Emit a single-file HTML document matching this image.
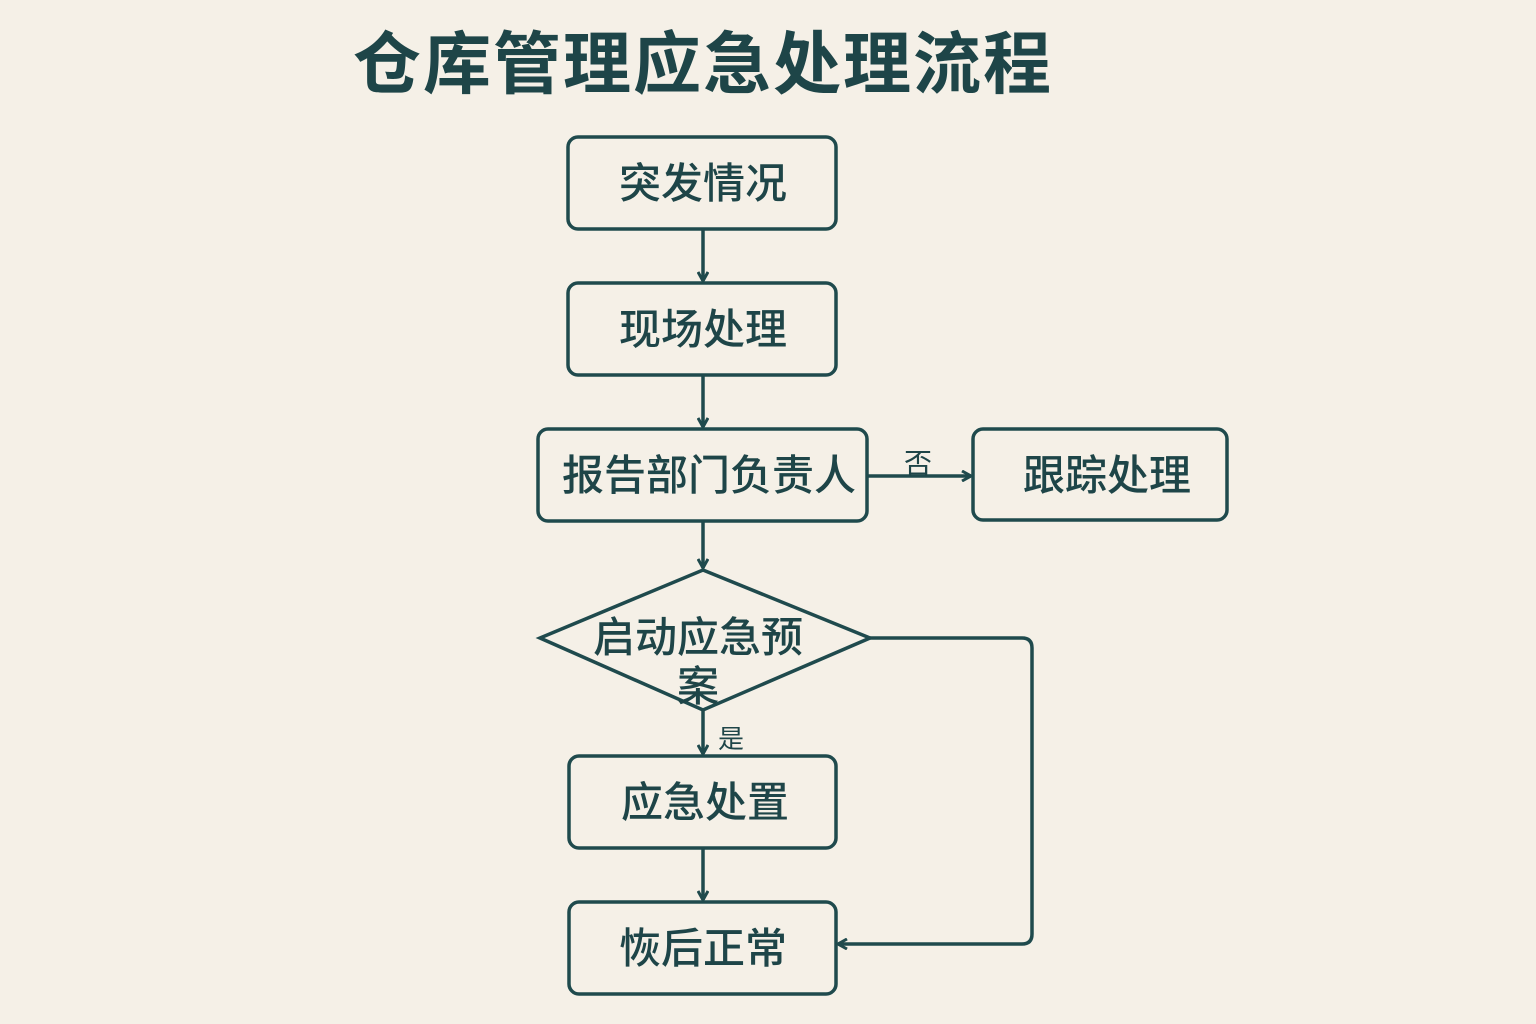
<!DOCTYPE html>
<html><head><meta charset="utf-8"><style>
html,body{margin:0;padding:0;background:#f5f0e7;}
svg{display:block;}
text{font-family:"Liberation Sans","Noto Sans CJK SC",sans-serif;fill:#1e4548;}
</style></head><body>
<svg width="1536" height="1024" viewBox="0 0 1536 1024" xmlns="http://www.w3.org/2000/svg">
<rect width="1536" height="1024" fill="#f5f0e7"/>
<defs><marker id="a" markerWidth="12" markerHeight="12" refX="10" refY="6" orient="auto" markerUnits="userSpaceOnUse"><path d="M1,1 L10,6 L1,11" fill="none" stroke="#1f4a4d" stroke-width="3"/></marker></defs>
<text x="703" y="88" font-size="68" font-weight="bold" text-anchor="middle" letter-spacing="2">仓库管理应急处理流程</text>
<g fill="none" stroke="#1f4a4d" stroke-width="3.5">
<rect x="568" y="137" width="268" height="92" rx="10"/>
<rect x="568" y="283" width="268" height="92" rx="10"/>
<rect x="538" y="429" width="329" height="92" rx="10"/>
<rect x="973" y="429" width="254" height="91" rx="10"/>
<path d="M540,638 L703,570 L870,638 L703,710 Z"/>
<rect x="569" y="756" width="267" height="92" rx="10"/>
<rect x="569" y="902" width="267" height="92" rx="10"/>
<path d="M703,229 V281" marker-end="url(#a)"/>
<path d="M703,375 V427" marker-end="url(#a)"/>
<path d="M703,521 V568" marker-end="url(#a)"/>
<path d="M867,476 H971" marker-end="url(#a)"/>
<path d="M703,710 V754" marker-end="url(#a)"/>
<path d="M703,848 V900" marker-end="url(#a)"/>
<path d="M870,638 H1022 Q1032,638 1032,648 V934 Q1032,944 1022,944 H838" marker-end="url(#a)"/>
</g>
<g font-size="42" font-weight="500" text-anchor="middle">
<text x="703" y="198">突发情况</text>
<text x="703" y="344">现场处理</text>
<text x="709" y="490">报告部门负责人</text>
<text x="1107" y="490">跟踪处理</text>
<text x="698" y="652">启动应急预</text>
<text x="698" y="701">案</text>
<text x="705" y="817">应急处置</text>
<text x="703" y="963">恢后正常</text>
</g>
<text x="918" y="473" font-size="28" text-anchor="middle">否</text>
<text x="731" y="748" font-size="26" text-anchor="middle">是</text>
</svg>
</body></html>
